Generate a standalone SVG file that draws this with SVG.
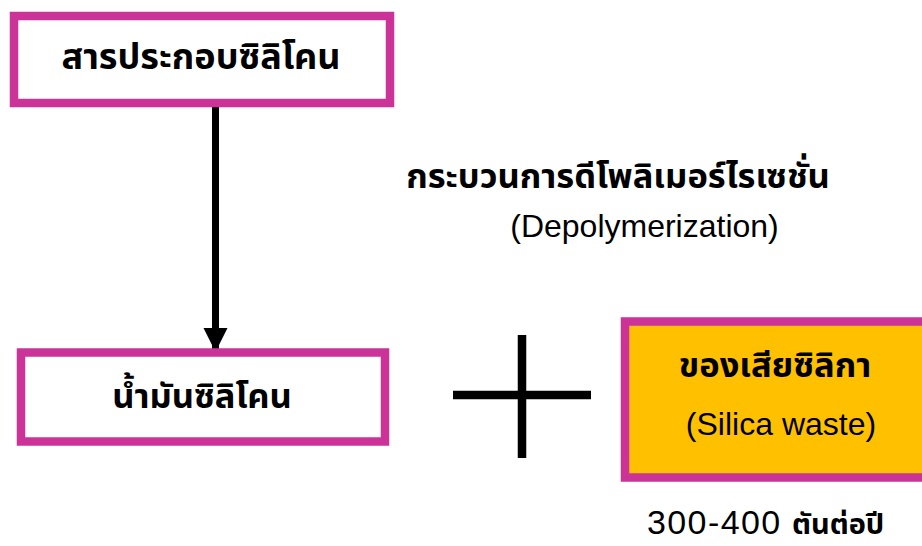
<svg xmlns="http://www.w3.org/2000/svg" width="922" height="546" viewBox="0 0 922 546">
<style>
.box{fill:#FFFFFF;stroke:#CC3399;stroke-width:8.5}
.waste{fill:#FFC000;stroke:#CC3399;stroke-width:8.5}
.th{font-family:"Noto Sans Thai","Tahoma","Liberation Sans",sans-serif;font-weight:bold;fill:#000;text-anchor:middle}
.en{font-family:"Liberation Sans",Arial,sans-serif;font-weight:normal;fill:#000;text-anchor:middle}
.amt{font-family:"Liberation Sans",Arial,sans-serif;font-weight:normal;fill:#000;text-anchor:start}
.amt-th{font-family:"Noto Sans Thai","Tahoma","Liberation Sans",sans-serif;font-weight:bold}
.ln{stroke:#000;fill:none}
</style>
<defs>
<marker id="ah" markerUnits="userSpaceOnUse" markerWidth="24" markerHeight="26" refX="24" refY="12" orient="auto">
<path d="M0,0 L24,12 L0,24 Z" fill="#000"/>
</marker>
</defs>
<rect width="922" height="546" fill="#FFFFFF"/>
<g id="connectors">
<line class="ln" x1="215.5" y1="107" x2="215.5" y2="352" stroke-width="7" marker-end="url(#ah)"/>
<line class="ln" x1="453" y1="395" x2="591" y2="395" stroke-width="8.5"/>
<line class="ln" x1="522" y1="335" x2="522" y2="458" stroke-width="8.5"/>
</g>
<g id="node-silicone-compound">
<rect class="box" x="14" y="16" width="376" height="87"/>
<text class="th" x="201" y="69" font-size="36">สารประกอบซิลิโคน</text>
</g>
<g id="node-silicone-oil">
<rect class="box" x="21" y="352.5" width="364" height="89"/>
<text class="th" x="202" y="408" font-size="34.5">น้ำมันซิลิโคน</text>
</g>
<g id="node-silica-waste">
<rect class="waste" x="625" y="321.5" width="310" height="156"/>
<text class="th" x="775" y="377" font-size="34.5">ของเสียซิลิกา</text>
<text class="en" x="781" y="435" font-size="32">(Silica waste)</text>
</g>
<g id="label-process">
<text class="th" x="618" y="188" font-size="34.5">กระบวนการดีโพลิเมอร์ไรเซชั่น</text>
<text class="en" x="644.5" y="237" font-size="32">(Depolymerization)</text>
</g>
<g id="label-amount">
<text class="amt" font-size="34" y="534"><tspan x="647" letter-spacing="1.4">300-400</tspan><tspan x="792" class="amt-th" font-size="29">ตันต่อปี</tspan></text>
</g>
</svg>
